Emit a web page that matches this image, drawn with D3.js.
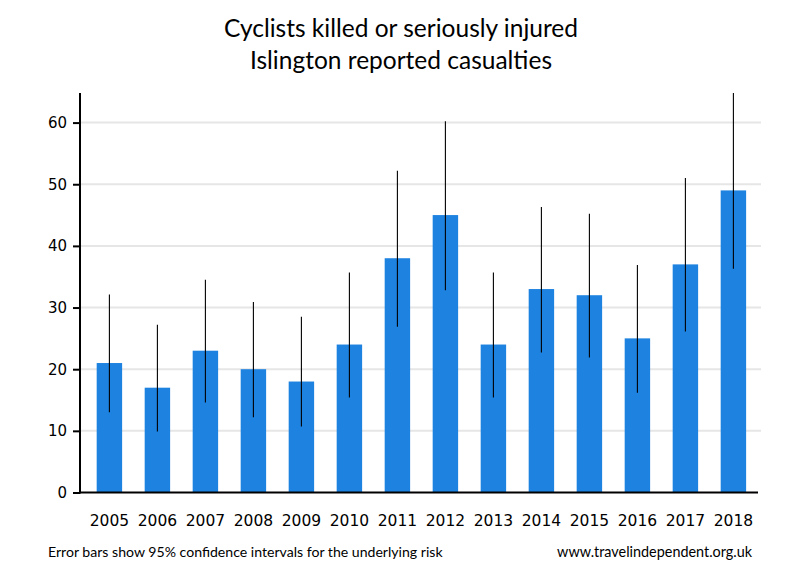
<!DOCTYPE html>
<html><head><meta charset="utf-8">
<script src="https://cdn.jsdelivr.net/npm/d3@7"></script>
<style>body{margin:0;background:#fff}</style>
</head><body>
<svg id="c" width="800" height="580"></svg>
<script>
const years = ["2005","2006","2007","2008","2009","2010","2011","2012","2013","2014","2015","2016","2017","2018"];
const casualties = [21,17,23,20,18,24,38,45,24,33,32,25,37,49];
const ciLow  = [13.0,9.9,14.6,12.2,10.7,15.4,26.9,32.8,15.4,22.7,21.9,16.2,26.1,36.3];
const ciHigh = [32.1,27.2,34.5,30.9,28.5,35.7,52.2,60.2,35.7,46.3,45.2,36.9,51.0,64.8];
const yTicks = [0,10,20,30,40,50,60];
const titleLines = ["Cyclists killed or seriously injured","Islington reported casualties"];
const footLeft = "Error bars show 95% confidence intervals for the underlying risk";
const footRight = "www.travelindependent.org.uk";

const svg = d3.select("#c");
const x = d3.scaleBand().domain(years).range([85.4,757.4]).paddingInner(0.47).paddingOuter(0.235);
const y = d3.scaleLinear().domain([0,64.8]).range([492.5,93]);

// gridlines
svg.append("g").selectAll("line").data(yTicks.filter(d=>d>0)).join("line")
  .attr("x1",80).attr("x2",761).attr("y1",d=>y(d)).attr("y2",d=>y(d))
  .attr("stroke","#e6e6e6").attr("stroke-width",2);

// bars
svg.append("g").selectAll("rect").data(years).join("rect")
  .attr("x",d=>x(d)).attr("width",x.bandwidth())
  .attr("y",(d,i)=>y(casualties[i])).attr("height",(d,i)=>y(0)-y(casualties[i]))
  .attr("fill","#1e82e0");

// error bars
svg.append("g").selectAll("line").data(years).join("line")
  .attr("x1",d=>x(d)+x.bandwidth()/2).attr("x2",d=>x(d)+x.bandwidth()/2)
  .attr("y1",(d,i)=>y(ciLow[i])).attr("y2",(d,i)=>y(ciHigh[i]))
  .attr("stroke","#000").attr("stroke-width",1.1);

// y axis
const ya = svg.append("g").attr("transform","translate(80,0)")
  .call(d3.axisLeft(y).tickValues(yTicks).tickSize(7).tickPadding(6).tickFormat(d3.format("d")));
ya.select(".domain").remove();
ya.append("line").attr("x1",0).attr("x2",0).attr("y1",93).attr("y2",493.5).attr("stroke","#000").attr("stroke-width",2);
ya.selectAll(".tick line").attr("stroke","#000").attr("stroke-width",2);
ya.selectAll("text").attr("font-family","DejaVu Sans").attr("font-size",15).attr("fill","#000");

// x axis
const xa = svg.append("g").attr("transform","translate(0,492.5)")
  .call(d3.axisBottom(x).tickSize(0).tickPadding(22));
xa.select(".domain").remove();
xa.append("line").attr("x1",79).attr("x2",758).attr("y1",0).attr("y2",0).attr("stroke","#000").attr("stroke-width",2);
xa.selectAll("text").attr("font-family","DejaVu Sans").attr("font-size",15.5).attr("fill","#000");

// title
svg.append("g").selectAll("text").data(titleLines).join("text")
  .attr("x",401).attr("y",(d,i)=>37+i*32).attr("text-anchor","middle")
  .attr("font-family","Lato").attr("font-size",24.5).attr("fill","#000").text(d=>d);

// footer
svg.append("text").attr("x",48).attr("y",557).attr("font-family","Lato").attr("font-size",14.1).attr("fill","#000").text(footLeft);
svg.append("text").attr("x",752).attr("y",557).attr("text-anchor","end").attr("font-family","Lato").attr("font-size",14.4).attr("fill","#000").text(footRight);
</script>
</body></html>
